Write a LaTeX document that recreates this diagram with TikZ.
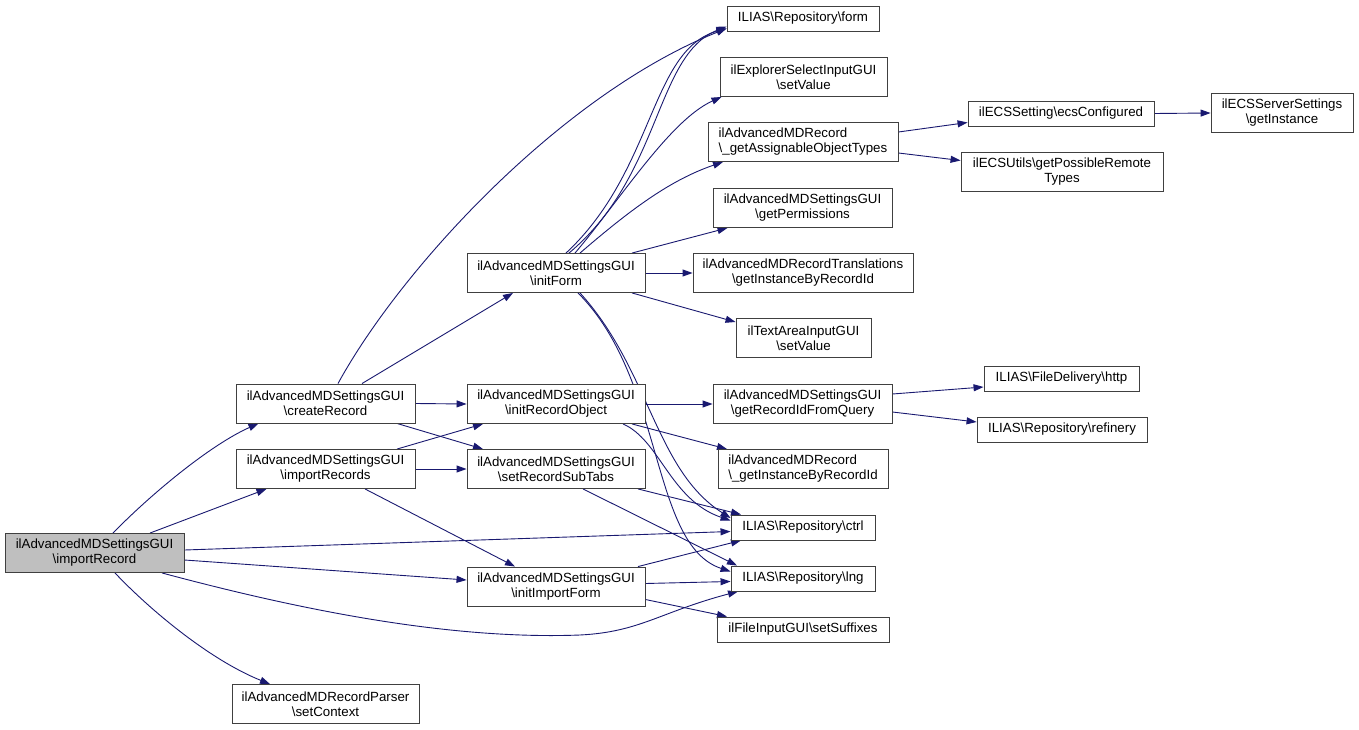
\documentclass[tikz,border=0pt]{standalone}
\usepackage{fontspec}
\setmainfont{Liberation Sans}
\usetikzlibrary{arrows.meta,backgrounds}
\definecolor{edgeblue}{HTML}{191970}
\definecolor{nodegray}{HTML}{BFBFBF}
\begin{document}
\begin{tikzpicture}[x=1pt,y=-1pt,
  box/.style={draw=black!75, line width=0.9pt, fill=white, inner sep=0pt, align=center,
    font=\fontsize{13.3}{15}\selectfont, minimum height=39pt},
  sbox/.style={box, minimum height=25pt},
  call/.style={draw=edgeblue, line width=0.9pt, -{Triangle[length=10pt,width=7pt]}}]
\useasboundingbox (0,0) rectangle (1359,730);
% nodes
\node[box, fill=nodegray, minimum width=179pt] (imp) at (94.5,553) {ilAdvancedMDSettingsGUI\\\textbackslash importRecord};
\node[box, minimum width=179pt] (cre) at (325.5,403.5) {ilAdvancedMDSettingsGUI\\\textbackslash createRecord};
\node[box, minimum width=179pt] (imps) at (325.5,469) {ilAdvancedMDSettingsGUI\\\textbackslash importRecords};
\node[box, minimum width=187pt] (ctx) at (325.5,704) {ilAdvancedMDRecordParser\\\textbackslash setContext};
\node[box, minimum width=178pt] (ifm) at (556,273) {ilAdvancedMDSettingsGUI\\\textbackslash initForm};
\node[box, minimum width=178pt] (iro) at (556,404) {ilAdvancedMDSettingsGUI\\\textbackslash initRecordObject};
\node[box, minimum width=178pt] (rst) at (556,469) {ilAdvancedMDSettingsGUI\\\textbackslash setRecordSubTabs};
\node[box, minimum width=178pt] (iif) at (556,586.5) {ilAdvancedMDSettingsGUI\\\textbackslash initImportForm};
\node[sbox, minimum width=152pt] (form) at (803,18.5) {ILIAS\textbackslash Repository\textbackslash form};
\node[box, minimum width=167pt] (expl) at (803.5,77) {ilExplorerSelectInputGUI\\\textbackslash setValue};
\node[box, minimum width=190pt, align=left] (asg) at (803,142) {ilAdvancedMDRecord\\\textbackslash\_getAssignableObjectTypes};
\node[box, minimum width=179pt] (perm) at (802.5,208) {ilAdvancedMDSettingsGUI\\\textbackslash getPermissions};
\node[box, minimum width=220pt] (trans) at (803,273) {ilAdvancedMDRecordTranslations\\\textbackslash getInstanceByRecordId};
\node[box, minimum width=135pt] (ta) at (803.5,338) {ilTextAreaInputGUI\\\textbackslash setValue};
\node[box, minimum width=179pt] (qry) at (802.5,404) {ilAdvancedMDSettingsGUI\\\textbackslash getRecordIdFromQuery};
\node[box, minimum width=170pt, align=left] (gin) at (803,469) {ilAdvancedMDRecord\\\textbackslash\_getInstanceByRecordId};
\node[sbox, minimum width=144pt] (ctrl) at (803,527.5) {ILIAS\textbackslash Repository\textbackslash ctrl};
\node[sbox, minimum width=144pt] (lng) at (803,578.5) {ILIAS\textbackslash Repository\textbackslash lng};
\node[sbox, minimum width=172pt] (suf) at (803,629.5) {ilFileInputGUI\textbackslash setSuffixes};
\node[sbox, minimum width=186pt] (ecs) at (1061,113.5) {ilECSSetting\textbackslash ecsConfigured};
\node[box, minimum width=202pt] (rem) at (1062,171.5) {ilECSUtils\textbackslash getPossibleRemote\\Types};
\node[box, minimum width=142pt] (srv) at (1282,113) {ilECSServerSettings\\\textbackslash getInstance};
\node[sbox, minimum width=155pt] (http) at (1061.5,378.5) {ILIAS\textbackslash FileDelivery\textbackslash http};
\node[sbox, minimum width=170pt] (ref) at (1062,429.5) {ILIAS\textbackslash Repository\textbackslash refinery};
% edges
\begin{scope}[on background layer]
\draw[call] ([xshift=18.5]imp.north) .. controls (150,495) and (210,445) .. ([xshift=-67]cre.south);
\draw[call] ([xshift=55.5]imp.north) -- ([xshift=-59]imps.south);
\draw[call] ([yshift=3]imp.east) -- ([yshift=-4]ctrl.west);
\draw[call] ([yshift=-7]imp.east) -- ([yshift=6.5]iif.west);
\draw[call] ([xshift=67.5]imp.south) .. controls (300,610) and (450,640) .. (580,635) .. controls (640,632) and (660,612) .. ([xshift=-65]lng.south);
\draw[call] ([xshift=20.5]imp.south) .. controls (150,610) and (210,660) .. ([xshift=-55.5]ctx.north);
\draw[call] ([xshift=12.5]cre.north) .. controls (400,270) and (560,95) .. ([yshift=-10]form.west);
\draw[call] ([xshift=36.5]cre.north) -- ([xshift=-43]ifm.south);
\draw[call] (cre.east) -- (iro.west);
\draw[call] ([xshift=71.5]cre.south) -- ([xshift=-73]rst.north);
\draw[call] ([xshift=71.5]imps.north) -- ([xshift=-73]iro.south);
\draw[call] (imps.east) -- (rst.west);
\draw[call] ([xshift=39.5]imps.south) -- ([xshift=-41]iif.north);
\draw[call] ([xshift=10]ifm.north) .. controls (655,170) and (650,50) .. ([yshift=-10]form.west);
\draw[call] ([xshift=13]ifm.north) .. controls (662,175) and (655,55) .. ([yshift=-8]form.west);
\draw[call] ([xshift=19]ifm.north) .. controls (620,200) and (670,120) .. ([xshift=-82]expl.south);
\draw[call] ([xshift=24]ifm.north) .. controls (630,210) and (670,180) .. ([xshift=-80]asg.south);
\draw[call] ([xshift=76]ifm.north) -- ([xshift=-75]perm.south);
\draw[call] (ifm.east) -- (trans.west);
\draw[call] ([xshift=76]ifm.south) -- ([yshift=16]ta.west);
\draw[call] ([xshift=24]ifm.south) .. controls (650,370) and (655,470) .. ([yshift=9.5]ctrl.west);
\draw[call] ([xshift=22]ifm.south) .. controls (665,380) and (650,545) .. ([yshift=7]lng.west);
\draw[call] (iro.east) -- (qry.west);
\draw[call] ([xshift=76]iro.south) -- ([xshift=-76]gin.north);
\draw[call] ([xshift=67]iro.south) .. controls (660,440) and (670,500) .. ([yshift=7]ctrl.west);
\draw[call] ([xshift=82]rst.south) -- ([xshift=-62]ctrl.north);
\draw[call] ([xshift=27]rst.south) -- ([xshift=-66]lng.north);
\draw[call] ([xshift=82]iif.north) -- ([xshift=-62]ctrl.south);
\draw[call] ([yshift=3]iif.east) -- ([yshift=-3]lng.west);
\draw[call] ([yshift=-13]iif.east) -- ([xshift=-76]suf.north);
\draw[call] ([yshift=10]asg.east) -- ([yshift=-9]ecs.west);
\draw[call] ([yshift=-11]asg.east) -- ([yshift=11]rem.west);
\draw[call] (ecs.east) -- (srv.west);
\draw[call] ([yshift=10]qry.east) -- ([yshift=-8.5]http.west);
\draw[call] ([yshift=-8]qry.east) -- ([yshift=7.5]ref.west);
\end{scope}
\end{tikzpicture}
\end{document}
